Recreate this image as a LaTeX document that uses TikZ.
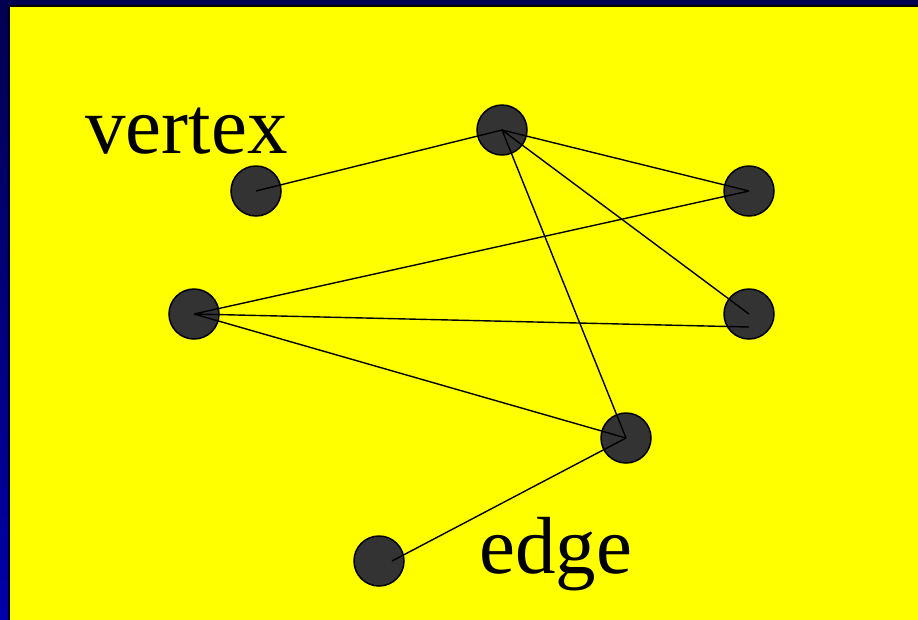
\documentclass[tikz,border=0pt]{standalone}
\usepackage{fontspec}
\setmainfont{Liberation Serif}
\definecolor{navytop}{RGB}{0,0,80}
\definecolor{navybottom}{RGB}{0,0,168}
\definecolor{dotgrey}{RGB}{51,51,51}
\definecolor{slideyellow}{RGB}{255,255,0}
\begin{document}
\begin{tikzpicture}[
                        x=1pt,
                        y=-1pt,
                        vertex/.style={
                            circle,
                            draw,
                            fill=dotgrey,
                            line width=1.5pt,
                            minimum size=50pt,
                            inner sep=0pt
                        },
                        line/.style={
                            draw,
                            line width=1.4pt
                        },
                        label_text/.style={
                            anchor=base west,
                            inner sep=0pt,
                            font=\fontsize{81}{90}\selectfont
                        }]

                        \useasboundingbox (0,0) rectangle (918,619);

                        % frame
                        \shade [top color=navytop, bottom color=navybottom] (0,0) rectangle (918,619);
                        \fill [navytop] (0,0) rectangle (918,6);
                        \fill [black] (8,5) rectangle (922,623);
                        \fill [slideyellow] (10,7) rectangle (922,623);

                        \node (vertex_label) [label_text] at (85,153) {vertex};
                        \node (edge_label) [label_text] at (479,573) {edge};

                        \node (left_top) [vertex] at (256,191) {};
                        \node (top) [vertex] at (502,130) {};
                        \node (right_top) [vertex] at (749,191) {};
                        \node (left_middle) [vertex] at (194,314) {};
                        \node (right_middle) [vertex] at (749,314) {};
                        \node (lower) [vertex] at (626,438) {};
                        \node (bottom) [vertex] at (379,561) {};

                        \coordinate (right_middle_end) at (749,327);
                        \coordinate (bottom_end) at (392,561);

                        \draw [line] (left_top.center) -- (top.center);
                        \draw [line] (top.center) -- (right_top.center);
                        \draw [line] (top.center) -- (right_middle.center);
                        \draw [line] (top.center) -- (lower.center);
                        \draw [line] (left_middle.center) -- (right_top.center);
                        \draw [line] (left_middle.center) -- (right_middle_end);
                        \draw [line] (left_middle.center) -- (lower.center);
                        \draw [line] (lower.center) -- (bottom_end);

                    \end{tikzpicture}
\end{document}
